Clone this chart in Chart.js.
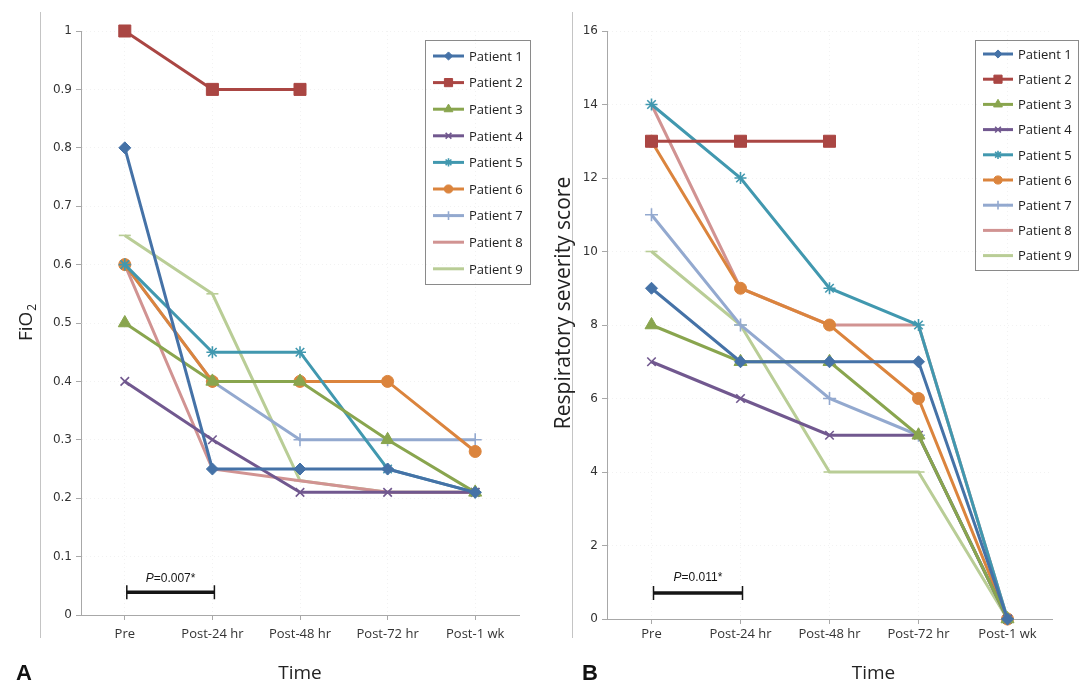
<!DOCTYPE html>
<html>
<head>
<meta charset="utf-8">
<script src="https://cdn.jsdelivr.net/npm/chart.js@4.4.0/dist/chart.umd.min.js"></script>
<style>
  body { margin: 0; background: #fff; }
  #wrap { position: relative; width: 1091px; height: 700px; overflow: hidden; }
  .panel { position: absolute; top: 0; }
  .frame { position: absolute; top: 12px; height: 626px; border-left: 1px solid #c4c4c4; }
  .tag { position: absolute; top: 660px; font: bold 22px "Liberation Sans", Arial, sans-serif; color: #111; }
</style>
</head>
<body>
<div id="wrap">
  <div class="frame" style="left:40px"></div>
  <div class="frame" style="left:572px"></div>
  <canvas class="panel" id="fioChart" width="545" height="700" style="left:0"></canvas>
  <canvas class="panel" id="rssChart" width="546" height="700" style="left:545px"></canvas>
  <div class="tag" style="left:16px">A</div>
  <div class="tag" style="left:582px">B</div>
</div>
<script>
// time points and patients
const timePoints = ['Pre', 'Post-24 hr', 'Post-48 hr', 'Post-72 hr', 'Post-1 wk'];
const patients = ['Patient 1', 'Patient 2', 'Patient 3', 'Patient 4', 'Patient 5',
                  'Patient 6', 'Patient 7', 'Patient 8', 'Patient 9'];

// panel A: FiO2 per patient (null = no value)
const fio2Values = [
  [0.8, 0.25, 0.25, 0.25, 0.21],
  [1.0, 0.9, 0.9, null, null],
  [0.5, 0.4, 0.4, 0.3, 0.21],
  [0.4, 0.3, 0.21, 0.21, 0.21],
  [0.6, 0.45, 0.45, 0.25, 0.21],
  [0.6, 0.4, 0.4, 0.4, 0.28],
  [0.6, 0.4, 0.3, 0.3, 0.3],
  [0.6, 0.25, 0.23, 0.21, 0.21],
  [0.65, 0.55, 0.23, 0.21, 0.21]
];

// panel B: respiratory severity score per patient
const scoreValues = [
  [9, 7, 7, 7, 0],
  [13, 13, 13, null, null],
  [8, 7, 7, 5, 0],
  [7, 6, 5, 5, 0],
  [14, 12, 9, 8, 0],
  [13, 9, 8, 6, 0],
  [11, 8, 6, 5, 0],
  [14, 9, 8, 8, 0],
  [10, 8, 4, 4, 0]
];

const fio2Ticks = { min: 0, max: 1, step: 0.1 };
const scoreTicks = { min: 0, max: 16, step: 2 };

// excel 2007 style palette + markers
const colors = ['#4572A7', '#AA4643', '#89A54E', '#71588F', '#4198AF',
                '#DB843D', '#93A9CF', '#D19392', '#B9CD96'];
const markers = ['rectRot', 'rect', 'triangle', 'crossRot', 'star', 'circle', 'cross', false, 'line'];
const markerSize = [6, 8.5, 7.5, 6, 6, 6, 6.5, 0, 6];

const axisFont = '"DejaVu Sans", Verdana, sans-serif';
const textFont = '"Open Sans", "Noto Sans", sans-serif';

function buildDatasets(series) {
  return series.map((vals, i) => {
    const stroked = ['crossRot', 'star', 'cross', 'line'].includes(markers[i]);
    return {
      label: patients[i],
      data: vals,
      borderColor: colors[i],
      backgroundColor: colors[i],
      borderWidth: 3,
      tension: 0,
      pointStyle: markers[i] || 'circle',
      pointRadius: markerSize[i],
      pointHoverRadius: markerSize[i],
      pointBackgroundColor: colors[i],
      pointBorderColor: colors[i],
      pointBorderWidth: stroked ? 1.6 : 1,
      spanGaps: false,
      clip: false
    };
  });
}

// legend drawn as a framed box like the original
const boxLegend = {
  id: 'boxLegend',
  afterDraw(chart, args, opts) {
    const ctx = chart.ctx;
    ctx.save();
    ctx.strokeStyle = '#8a8a8a';
    ctx.lineWidth = 1;
    ctx.strokeRect(opts.x + 0.5, opts.y + 0.5, opts.w, opts.h);
    ctx.font = '13px ' + textFont;
    ctx.textBaseline = 'middle';
    chart.data.datasets.forEach((ds, i) => {
      const y = opts.first + i * opts.step;
      const x0 = opts.x + 8, x1 = x0 + opts.sample;
      ctx.strokeStyle = ds.borderColor;
      ctx.lineWidth = 3;
      ctx.beginPath();
      ctx.moveTo(x0, y);
      ctx.lineTo(x1, y);
      ctx.stroke();
      if (ds.pointRadius > 0 && ds.pointStyle !== 'line') {
        ctx.fillStyle = ds.pointBackgroundColor;
        ctx.strokeStyle = ds.pointBorderColor;
        ctx.lineWidth = ds.pointBorderWidth;
        Chart.helpers.drawPoint(ctx, {
          pointStyle: ds.pointStyle, rotation: 0,
          radius: ds.pointRadius * 0.68, borderWidth: ds.pointBorderWidth
        }, (x0 + x1) / 2, y);
      }
      ctx.fillStyle = '#222';
      ctx.fillText(ds.label, x1 + 5, y + 1);
    });
    ctx.restore();
  }
};

// significance bar between Pre and Post-24 hr
const pBracket = {
  id: 'pBracket',
  afterDatasetsDraw(chart, args, opts) {
    const sx = chart.scales.x, sy = chart.scales.y;
    const ctx = chart.ctx;
    const x0 = sx.getPixelForValue(opts.from) + 2;
    const x1 = sx.getPixelForValue(opts.to) + 2;
    const yb = sy.getPixelForValue(opts.barAt);
    const yt = sy.getPixelForValue(opts.textAt);
    ctx.save();
    ctx.strokeStyle = '#151515';
    ctx.lineWidth = 3.5;
    ctx.beginPath();
    ctx.moveTo(x0, yb); ctx.lineTo(x1, yb);
    ctx.stroke();
    ctx.lineWidth = 1.5;
    ctx.beginPath();
    ctx.moveTo(x0, yb - 7); ctx.lineTo(x0, yb + 7);
    ctx.moveTo(x1, yb - 7); ctx.lineTo(x1, yb + 7);
    ctx.stroke();
    ctx.fillStyle = '#151515';
    ctx.textBaseline = 'middle';
    const italic = 'italic 12px "Liberation Sans", Arial, sans-serif';
    const plain = '12px "Liberation Sans", Arial, sans-serif';
    ctx.font = italic;
    const wP = ctx.measureText('P').width;
    ctx.font = plain;
    const wRest = ctx.measureText(opts.text).width;
    const tx = (x0 + x1) / 2 - (wP + wRest) / 2;
    ctx.font = italic;
    ctx.fillText('P', tx, yt);
    ctx.font = plain;
    ctx.fillText(opts.text, tx + wP, yt);
    ctx.restore();
  }
};

// axis captions: "Time" below, rotated caption on the left
const captions = {
  id: 'captions',
  afterDraw(chart, args, opts) {
    const ctx = chart.ctx;
    const a = chart.chartArea;
    ctx.save();
    ctx.fillStyle = '#222';
    ctx.font = '19px ' + textFont;
    ctx.textAlign = 'center';
    ctx.textBaseline = 'middle';
    ctx.fillText('Time', (a.left + a.right) / 2 + opts.timeDx, 674);

    // y caption, with optional subscript
    ctx.translate(opts.yX, (a.top + a.bottom) / 2 + opts.yDy);
    ctx.rotate(-Math.PI / 2);
    ctx.textAlign = 'left';
    ctx.font = opts.ySize + 'px ' + textFont;
    const wMain = ctx.measureText(opts.yText).width;
    let wSub = 0;
    if (opts.ySub) {
      ctx.font = Math.round(opts.ySize * 0.65) + 'px ' + textFont;
      wSub = ctx.measureText(opts.ySub).width;
    }
    const start = -(wMain + wSub) / 2;
    ctx.font = opts.ySize + 'px ' + textFont;
    ctx.fillText(opts.yText, start, 0);
    if (opts.ySub) {
      ctx.font = Math.round(opts.ySize * 0.65) + 'px ' + textFont;
      ctx.fillText(opts.ySub, start + wMain + 1, opts.ySize * 0.3);
    }
    ctx.restore();
  }
};

function makeChart(id, series, ticks, cfg) {
  const ctx = document.getElementById(id).getContext('2d');
  return new Chart(ctx, {
    type: 'line',
    data: { labels: timePoints, datasets: buildDatasets(series) },
    plugins: [boxLegend, pBracket, captions],
    options: {
      responsive: false,
      animation: false,
      events: [],
      layout: { padding: { left: 0, top: 31, right: cfg.padRight, bottom: 0 } },
      plugins: {
        legend: { display: false },
        tooltip: { enabled: false },
        boxLegend: cfg.legend,
        pBracket: cfg.bracket,
        captions: cfg.captions
      },
      scales: {
        x: {
          offset: true,
          afterFit: (s) => { s.height = cfg.xHeight; },
          grid: {
            color: 'rgba(0,0,0,0.05)',
            tickColor: '#a8a8a8',
            tickLength: 5
          },
          border: { color: '#a8a8a8', dash: [1, 3] },
          ticks: {
            color: '#333',
            padding: cfg.xPad,
            font: { family: textFont, size: 13 },
            maxRotation: 0
          }
        },
        y: {
          min: ticks.min,
          max: ticks.max,
          afterFit: (s) => { s.width = cfg.yWidth; },
          grid: {
            color: 'rgba(0,0,0,0.05)',
            tickColor: '#a8a8a8',
            tickLength: 5
          },
          border: { color: '#a8a8a8', dash: [1, 3] },
          ticks: {
            stepSize: ticks.step,
            color: '#333',
            padding: 4,
            font: { family: axisFont, size: 12 },
            callback: (v) => String(+v.toFixed(2))
          }
        }
      }
    }
  });
}

makeChart('fioChart', fio2Values, fio2Ticks, {
  padRight: 26, xHeight: 85, yWidth: 81, xPad: 6,
  captions: { timeDx: 0, yText: 'FiO', ySub: '2', yX: 27, yDy: 0, ySize: 19 },
  legend: { x: 425, y: 40, w: 105, h: 244, first: 56, step: 26.6, sample: 31 },
  bracket: { from: 0, to: 1, barAt: 0.039, textAt: 0.062, text: '=0.007*' }
});

makeChart('rssChart', scoreValues, scoreTicks, {
  padRight: 39, xHeight: 81, yWidth: 62, xPad: 2,
  captions: { timeDx: 44, yText: 'Respiratory severity score', ySub: '', yX: 19, yDy: -22, ySize: 21 },
  legend: { x: 430, y: 40, w: 103, h: 230, first: 54, step: 25.2, sample: 30 },
  bracket: { from: 0, to: 1, barAt: 0.71, textAt: 1.13, text: '=0.011*' }
});
</script>
</body>
</html>
